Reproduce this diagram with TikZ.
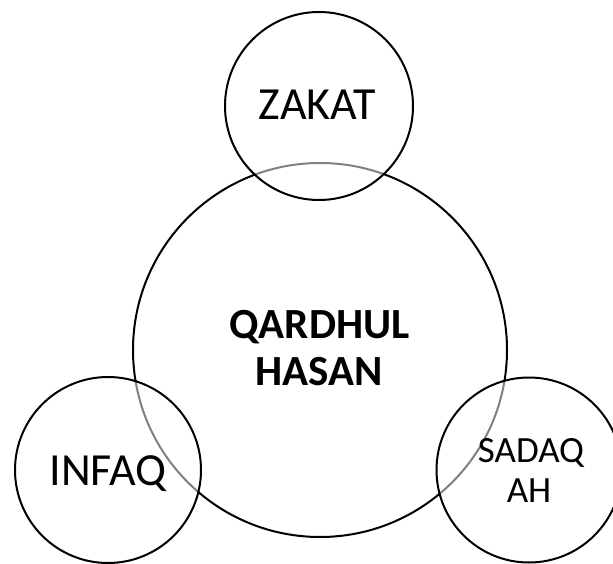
\documentclass[tikz,border=0pt]{standalone}
\usepackage{fontspec}
\setmainfont{Carlito}
\begin{document}
\begin{tikzpicture}[x=1pt,y=1pt,
  ring/.style={circle,draw=black,line width=2pt,inner sep=0pt},
  satellite/.style={ring,fill=white,fill opacity=0.5},
  word/.style={anchor=base,inner sep=0pt,text=black}]
  \useasboundingbox (0,0) rectangle (613,563);
  \clip (0,0) rectangle (613,563);
  % central circle
  \node[ring,minimum size=374pt] (main) at (320,213) {};
  % three overlapping satellites, half-transparent white fill
  \node[satellite,minimum size=188pt] (zakat) at (319,457) {};
  \node[satellite,minimum size=186pt] (infaq) at (108,93) {};
  \node[satellite,minimum size=185pt] (sadaqah) at (529,93) {};
  % labels
  \node[word,font=\bfseries\fontsize{43}{47}\selectfont] (q1) at (319.5,225) {QARDHUL};
  \node[word,font=\bfseries\fontsize{43}{47}\selectfont] (q2) at (319,178) {HASAN};
  \node[word,font=\fontsize{46}{50}\selectfont] (tz) at (317.5,443) {ZAKAT};
  \node[word,font=\fontsize{46}{50}\selectfont] (ti) at (108,78) {INFAQ};
  \node[word,font=\fontsize{37}{40}\selectfont] (ts1) at (531,101) {SADAQ};
  \node[word,font=\fontsize{37}{40}\selectfont] (ts2) at (529,61) {AH};
\end{tikzpicture}
\end{document}
